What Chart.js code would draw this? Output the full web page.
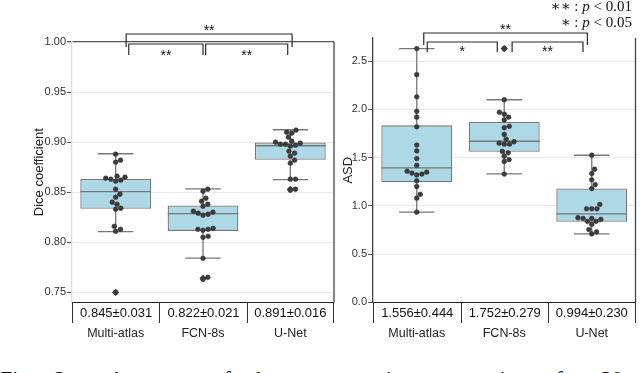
<!DOCTYPE html>
<html>
<head>
<meta charset="utf-8">
<script src="https://cdn.jsdelivr.net/npm/chart.js@4.4.0/dist/chart.umd.min.js"></script>
<style>
  html, body { margin: 0; padding: 0; background: #fff; }
  body { width: 640px; height: 373px; position: relative; overflow: hidden; font-family: 'Liberation Sans', Arial, sans-serif; color: #222; }
  canvas { position: absolute; top: 0; }
  #diceCanvas { left: 0; }
  #asdCanvas { left: 336px; }
  .cell { position: absolute; height: 21px; box-sizing: border-box; border-top: 1.5px solid #222; border-left: 1.2px solid #333; text-align: center; line-height: 20px; font-size: 13px; color: #111; white-space: nowrap; }
  .cell.last { border-right: 1.2px solid #333; }
  .cat { position: absolute; text-align: center; line-height: 16px; font-size: 12.5px; color: #222; white-space: nowrap; }
  #sigKey { position: absolute; right: 8px; top: -1px; text-align: right; font-family: 'Liberation Serif', 'DejaVu Serif', serif; font-size: 15px; line-height: 15.5px; color: #111; }
  #caption { position: absolute; left: 0; top: 368px; font-family: 'Liberation Serif', serif; font-size: 22px; line-height: 22px; white-space: nowrap; word-spacing: 14px; color: #111; }
</style>
</head>
<body>
<canvas id="diceCanvas" width="340" height="310"></canvas>
<canvas id="asdCanvas" width="304" height="310"></canvas>
<div id="sigKey"><div>&lowast;&lowast; : <i>p</i> &lt; 0.01</div><div>&lowast; : <i>p</i> &lt; 0.05</div></div>
<div id="caption">Fig. 2.&nbsp; Accuracy of the segmentation comparison for 20 testing</div>
<script>
const categories = ['Multi-atlas', 'FCN-8s', 'U-Net'];

// Dice coefficient per test case
const diceMultiAtlas = [0.888, 0.882, 0.880, 0.866, 0.865, 0.864, 0.863, 0.862, 0.861, 0.853,
  0.848, 0.845, 0.840, 0.838, 0.834, 0.833, 0.816, 0.813, 0.811, 0.750];
const diceFcn = [0.853, 0.851, 0.844, 0.841, 0.838, 0.836, 0.831, 0.830, 0.829, 0.828,
  0.827, 0.814, 0.813, 0.813, 0.812, 0.806, 0.805, 0.784, 0.765, 0.763];
const diceUnet = [0.912, 0.910, 0.909, 0.905, 0.901, 0.900, 0.899, 0.898, 0.898, 0.897,
  0.896, 0.891, 0.889, 0.886, 0.882, 0.879, 0.863, 0.863, 0.853, 0.852];

const diceLowWhisker = [0.8107, 0.7842, 0.8625];
const diceQ1 = [0.8334, 0.8114, 0.8825];
const diceMedian = [0.8506, 0.8287, 0.8964];
const diceQ3 = [0.8632, 0.8367, 0.8997];
const diceHighWhisker = [0.8884, 0.8533, 0.9124];
const diceOutliers = [[0.750], [0.764], [0.853]];
const diceSummary = ['0.845\u00b10.031', '0.822\u00b10.021', '0.891\u00b10.016'];
const diceTicks = [0.75, 0.80, 0.85, 0.90, 0.95, 1.00];

// ASD per test case
const asdMultiAtlas = [2.63, 2.36, 2.13, 1.98, 1.92, 1.82, 1.63, 1.57, 1.49, 1.42,
  1.36, 1.35, 1.34, 1.33, 1.32, 1.26, 1.20, 1.12, 1.08, 0.935];
const asdFcn = [2.63, 2.10, 1.97, 1.95, 1.92, 1.89, 1.825, 1.81, 1.74, 1.69,
  1.665, 1.65, 1.64, 1.64, 1.565, 1.55, 1.515, 1.48, 1.46, 1.33];
const asdUnet = [1.525, 1.38, 1.335, 1.27, 1.22, 1.18, 1.015, 0.97, 0.97, 0.97,
  0.877, 0.87, 0.87, 0.86, 0.84, 0.84, 0.81, 0.755, 0.73, 0.71];

const asdLowWhisker = [0.935, 1.332, 0.711];
const asdQ1 = [1.245, 1.56, 0.835];
const asdMedian = [1.394, 1.67, 0.918];
const asdQ3 = [1.835, 1.87, 1.18];
const asdHighWhisker = [2.63, 2.10, 1.525];
const asdOutliers = [[], [2.63], []];
const asdSummary = ['1.556\u00b10.444', '1.752\u00b10.279', '0.994\u00b10.230'];
const asdTicks = [0, 0.5, 1.0, 1.5, 2.0, 2.5];

// significance brackets: from / to on the category axis, outer or inner row
const diceBrackets = [
  { from: 0.12, to: 2.02, label: '**', row: 'outer' },
  { from: 0.15, to: 1.0, label: '**', row: 'inner' },
  { from: 1.03, to: 1.97, label: '**', row: 'inner' }
];
const asdBrackets = [
  { from: 0.08, to: 1.95, label: '**', row: 'outer' },
  { from: 0.12, to: 0.92, label: '*', row: 'inner' },
  { from: 1.09, to: 1.9, label: '**', row: 'inner' }
];

const BOX_FILL = '#add8e6';
const BOX_LINE = '#777777';
const DOT = '#3c3c3c';

function swarmOffsets(values, yScale, pxPerUnit, diameter) {
  const placed = [];
  const offsets = new Array(values.length);
  const order = values.map((v, i) => i).sort((a, b) => values[a] - values[b]);
  for (const i of order) {
    const py = yScale.getPixelForValue(values[i]);
    const candidates = [0];
    for (const p of placed) {
      const dy = Math.abs(p.py - py);
      if (dy < diameter) {
        const dx = Math.sqrt(diameter * diameter - dy * dy);
        candidates.push(p.px + dx, p.px - dx);
      }
    }
    candidates.sort((a, b) => Math.abs(a) - Math.abs(b));
    const px = candidates.find(c => placed.every(p => Math.hypot(p.px - c, p.py - py) >= diameter - 0.01));
    placed.push({ px, py });
    offsets[i] = px / pxPerUnit;
  }
  return offsets;
}

function boxPartsPlugin(stats) {
  return {
    id: 'boxParts',
    afterDatasetDraw(chart, args) {
      if (args.index !== 0) return;
      const { ctx, scales: { x, y } } = chart;
      const bars = chart.getDatasetMeta(0).data;
      ctx.save();
      ctx.strokeStyle = BOX_LINE;
      ctx.lineWidth = 1.3;
      categories.forEach((c, i) => {
        const cx = x.getPixelForValue(i);
        const half = bars[i].width / 2;
        const cap = half / 2;
        const lo = y.getPixelForValue(stats.low[i]);
        const q1 = y.getPixelForValue(stats.q1[i]);
        const q3 = y.getPixelForValue(stats.q3[i]);
        const hi = y.getPixelForValue(stats.high[i]);
        const med = y.getPixelForValue(stats.median[i]);
        ctx.beginPath();
        ctx.moveTo(cx, q1); ctx.lineTo(cx, lo);
        ctx.moveTo(cx - cap, lo); ctx.lineTo(cx + cap, lo);
        ctx.moveTo(cx, q3); ctx.lineTo(cx, hi);
        ctx.moveTo(cx - cap, hi); ctx.lineTo(cx + cap, hi);
        ctx.moveTo(cx - half, med); ctx.lineTo(cx + half, med);
        ctx.stroke();
      });
      ctx.restore();
    }
  };
}

function bracketsPlugin(brackets, geo) {
  return {
    id: 'brackets',
    afterDraw(chart) {
      const { ctx, chartArea, scales: { x } } = chart;
      ctx.save();
      ctx.strokeStyle = '#2a2a2a';
      ctx.lineWidth = 1.2;
      ctx.fillStyle = '#111';
      ctx.font = '14px "Liberation Sans", Arial, sans-serif';
      ctx.textAlign = 'center';
      ctx.textBaseline = 'alphabetic';
      brackets.forEach(b => {
        const g = geo[b.row];
        const x0 = x.getPixelForValue(b.from);
        const x1 = x.getPixelForValue(b.to);
        const yLine = chartArea.top + g.line;
        const yLeg = chartArea.top + g.leg;
        ctx.beginPath();
        ctx.moveTo(x0, yLeg); ctx.lineTo(x0, yLine); ctx.lineTo(x1, yLine); ctx.lineTo(x1, yLeg);
        ctx.stroke();
        ctx.fillText(b.label, (x0 + x1) / 2, chartArea.top + g.text);
      });
      ctx.restore();
    }
  };
}

const rightSpine = {
  id: 'rightSpine',
  afterDraw(chart) {
    const { ctx, chartArea } = chart;
    ctx.save();
    ctx.strokeStyle = '#444';
    ctx.lineWidth = 1.3;
    ctx.beginPath();
    ctx.moveTo(chartArea.right, chartArea.top);
    ctx.lineTo(chartArea.right, chartArea.bottom);
    ctx.stroke();
    ctx.restore();
  }
};

function makePanel(canvasId, opts) {
  const groups = opts.values;
  const pointData = [];
  groups.forEach((vals, i) => vals.forEach(v => pointData.push({ x: i, y: v })));
  const outlierData = [];
  opts.outliers.forEach((vals, i) => vals.forEach(v => outlierData.push({ x: i, y: v })));

  const chart = new Chart(document.getElementById(canvasId), {
    type: 'scatter',
    data: {
      datasets: [
        {
          type: 'bar',
          data: categories.map((c, i) => ({ x: i, y: [opts.q1[i], opts.q3[i]] })),
          backgroundColor: BOX_FILL,
          borderColor: BOX_LINE,
          borderWidth: 1.3,
          borderSkipped: false,
          barPercentage: 0.81,
          categoryPercentage: 1,
          order: 3
        },
        {
          data: outlierData,
          pointStyle: 'rectRot',
          pointRadius: 3.6,
          backgroundColor: DOT,
          borderColor: DOT,
          borderWidth: 0,
          order: 2
        },
        {
          data: pointData,
          pointRadius: 2.4,
          backgroundColor: DOT,
          borderColor: '#333',
          borderWidth: 0.5,
          order: 1
        }
      ]
    },
    options: {
      responsive: false,
      animation: false,
      events: [],
      layout: { padding: opts.padding },
      plugins: { legend: { display: false }, tooltip: { enabled: false } },
      scales: {
        x: {
          type: 'linear',
          display: false,
          min: -0.5,
          max: 2.5,
          offset: false,
          afterBuildTicks: scale => { scale.ticks = categories.map((c, i) => ({ value: i })); }
        },
        y: {
          min: opts.min,
          max: opts.max,
          afterBuildTicks: scale => { scale.ticks = opts.ticks.map(v => ({ value: v })); },
          afterFit: scale => { scale.width = opts.axisWidth; },
          grid: {
            color: c => (c.tick && opts.darkTick !== undefined && c.tick.value === opts.darkTick) ? '#555' : '#e8e8e8',
            tickColor: '#555',
            tickLength: 5,
            lineWidth: c => (c.tick && opts.darkTick !== undefined && c.tick.value === opts.darkTick) ? 1.3 : 1
          },
          border: { color: opts.borderColor, width: 1.3 },
          ticks: {
            padding: 1,
            color: '#333',
            font: { family: '"Liberation Sans", Arial, sans-serif', size: 11 },
            callback: v => v.toFixed(opts.decimals)
          },
          title: {
            display: true,
            text: opts.title,
            color: '#222',
            font: { family: '"Liberation Sans", Arial, sans-serif', size: 13 },
            padding: { top: opts.titlePad, bottom: 0 }
          }
        }
      }
    },
    plugins: [
      boxPartsPlugin({ low: opts.low, q1: opts.q1, median: opts.median, q3: opts.q3, high: opts.high }),
      bracketsPlugin(opts.brackets, opts.bracketGeo),
      rightSpine
    ]
  });

  // spread the dots into a swarm using the laid-out scales
  const xs = chart.scales.x;
  const pxPerUnit = xs.getPixelForValue(1) - xs.getPixelForValue(0);
  const swarmData = [];
  groups.forEach((vals, i) => {
    const offs = swarmOffsets(vals, chart.scales.y, pxPerUnit, 5.2);
    vals.forEach((v, k) => swarmData.push({ x: i + offs[k], y: v }));
  });
  chart.data.datasets[2].data = swarmData;
  chart.update();
  return chart;
}

function makeTable(chart, canvasLeft, summary) {
  const xs = chart.scales.x;
  const top = chart.chartArea.bottom;
  categories.forEach((c, i) => {
    const l = canvasLeft + xs.getPixelForValue(i - 0.5);
    const r = canvasLeft + xs.getPixelForValue(i + 0.5);
    const cell = document.createElement('div');
    cell.className = 'cell' + (i === categories.length - 1 ? ' last' : '');
    cell.style.left = l + 'px';
    cell.style.top = top + 'px';
    cell.style.width = (r - l) + 'px';
    cell.textContent = summary[i];
    document.body.appendChild(cell);
    const lab = document.createElement('div');
    lab.className = 'cat';
    lab.style.left = l + 'px';
    lab.style.top = (top + 23) + 'px';
    lab.style.width = (r - l) + 'px';
    lab.textContent = c;
    document.body.appendChild(lab);
  });
}

const diceChart = makePanel('diceCanvas', {
  values: [diceMultiAtlas, diceFcn, diceUnet],
  low: diceLowWhisker, q1: diceQ1, median: diceMedian, q3: diceQ3, high: diceHighWhisker,
  outliers: diceOutliers,
  ticks: diceTicks, min: 0.74, max: 1.0, decimals: 2, darkTick: 1.0,
  title: 'Dice coefficient', titlePad: 32, axisWidth: 72,
  borderColor: '#dddddd',
  padding: { left: 0, right: 6, top: 42, bottom: 7 },
  brackets: diceBrackets,
  bracketGeo: { outer: { line: -8, leg: 5, text: -7 }, inner: { line: 2, leg: 13, text: 18 } }
});

const asdChart = makePanel('asdCanvas', {
  values: [asdMultiAtlas, asdFcn, asdUnet],
  low: asdLowWhisker, q1: asdQ1, median: asdMedian, q3: asdQ3, high: asdHighWhisker,
  outliers: asdOutliers,
  ticks: asdTicks, min: 0, max: 2.74, decimals: 1,
  title: 'ASD', titlePad: 5, axisWidth: 37,
  borderColor: '#444444',
  padding: { left: 0, right: 2, top: 38, bottom: 7 },
  brackets: asdBrackets,
  bracketGeo: { outer: { line: -5, leg: 7, text: -4 }, inner: { line: 4, leg: 14, text: 18 } }
});

makeTable(diceChart, 0, diceSummary);
makeTable(asdChart, 336, asdSummary);
</script>
</body>
</html>
